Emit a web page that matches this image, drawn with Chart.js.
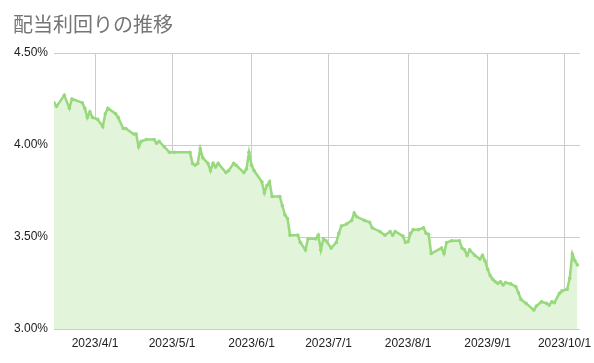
<!DOCTYPE html>
<html>
<head>
<meta charset="utf-8">
<script src="https://cdn.jsdelivr.net/npm/chart.js@4.4.0/dist/chart.umd.min.js"></script>
<style>
  html, body { margin: 0; padding: 0; background: #fff; }
</style>
</head>
<body>
<canvas id="chart" width="594" height="363"></canvas>
<script>
const chartTitle = "配当利回りの推移";

// dates and dividend yield (%)
const dates = [
  "2023/3/16", "2023/3/17", "2023/3/20", "2023/3/22", "2023/3/23", "2023/3/27", "2023/3/28", "2023/3/29",
  "2023/3/30", "2023/3/31", "2023/4/2", "2023/4/4", "2023/4/5", "2023/4/6", "2023/4/9", "2023/4/10",
  "2023/4/12", "2023/4/13", "2023/4/16", "2023/4/17", "2023/4/18", "2023/4/19", "2023/4/21", "2023/4/24",
  "2023/4/25", "2023/4/26", "2023/4/28", "2023/4/30", "2023/5/2", "2023/5/8", "2023/5/9", "2023/5/10",
  "2023/5/11", "2023/5/12", "2023/5/13", "2023/5/15", "2023/5/16", "2023/5/17", "2023/5/18", "2023/5/19",
  "2023/5/22", "2023/5/23", "2023/5/25", "2023/5/26", "2023/5/29", "2023/5/30", "2023/5/31", "2023/6/1",
  "2023/6/2", "2023/6/5", "2023/6/6", "2023/6/7", "2023/6/8", "2023/6/9", "2023/6/12", "2023/6/13",
  "2023/6/14", "2023/6/15", "2023/6/16", "2023/6/19", "2023/6/20", "2023/6/22", "2023/6/23", "2023/6/26",
  "2023/6/27", "2023/6/28", "2023/6/29", "2023/6/30", "2023/7/2", "2023/7/4", "2023/7/5", "2023/7/6",
  "2023/7/8", "2023/7/10", "2023/7/11", "2023/7/12", "2023/7/15", "2023/7/17", "2023/7/18", "2023/7/21",
  "2023/7/23", "2023/7/25", "2023/7/26", "2023/7/27", "2023/7/30", "2023/7/31", "2023/8/1", "2023/8/2",
  "2023/8/3", "2023/8/5", "2023/8/7", "2023/8/8", "2023/8/9", "2023/8/10", "2023/8/14", "2023/8/15",
  "2023/8/16", "2023/8/18", "2023/8/21", "2023/8/22", "2023/8/23", "2023/8/24", "2023/8/25", "2023/8/27",
  "2023/8/29", "2023/8/30", "2023/8/31", "2023/9/1", "2023/9/2", "2023/9/3", "2023/9/4", "2023/9/5",
  "2023/9/6", "2023/9/7", "2023/9/8", "2023/9/10", "2023/9/12", "2023/9/13", "2023/9/14", "2023/9/16",
  "2023/9/19", "2023/9/20", "2023/9/22", "2023/9/24", "2023/9/25", "2023/9/26", "2023/9/27", "2023/9/29",
  "2023/9/30", "2023/10/2", "2023/10/3", "2023/10/4", "2023/10/5", "2023/10/6"
];
const yields = [
  4.23, 4.21, 4.27, 4.20, 4.25, 4.23, 4.20, 4.15,
  4.18, 4.15, 4.14, 4.10, 4.17, 4.20, 4.17, 4.15,
  4.09, 4.09, 4.06, 4.06, 3.99, 4.02, 4.03, 4.03,
  4.01, 4.02, 3.99, 3.96, 3.96, 3.96, 3.90, 3.89,
  3.90, 3.98, 3.93, 3.90, 3.86, 3.90, 3.88, 3.90,
  3.85, 3.86, 3.90, 3.89, 3.85, 3.87, 3.96, 3.89,
  3.86, 3.80, 3.74, 3.78, 3.80, 3.72, 3.72, 3.67,
  3.62, 3.60, 3.51, 3.51, 3.47, 3.43, 3.49, 3.49,
  3.51, 3.43, 3.49, 3.48, 3.44, 3.47, 3.52, 3.56,
  3.57, 3.59, 3.63, 3.61, 3.59, 3.58, 3.55, 3.53,
  3.51, 3.53, 3.51, 3.53, 3.505, 3.47, 3.475, 3.52,
  3.54, 3.54, 3.55, 3.52, 3.515, 3.41, 3.44, 3.41,
  3.47, 3.48, 3.48, 3.44, 3.43, 3.40, 3.43, 3.40,
  3.38, 3.40, 3.37, 3.325, 3.29, 3.27, 3.257, 3.248,
  3.257, 3.239, 3.252, 3.245, 3.23, 3.197, 3.161, 3.139,
  3.103, 3.125, 3.148, 3.139, 3.13, 3.148, 3.143, 3.194,
  3.207, 3.216, 3.276, 3.408, 3.371, 3.348
];

const monthTicks = ["2023/4/1", "2023/5/1", "2023/6/1", "2023/7/1", "2023/8/1", "2023/9/1", "2023/10/1"];
const rangeStart = "2023/3/16";
const rangeEnd = "2023/10/7";
const yTicks = [3.0, 3.5, 4.0, 4.5];

const DAY = 86400000;
const BASE = Date.UTC(2023, 3, 1);

function toDay(str) {
  const p = str.split("/").map(Number);
  return (Date.UTC(p[0], p[1] - 1, p[2]) - BASE) / DAY;
}

function fmtDay(v) {
  const d = new Date(BASE + v * DAY);
  return d.getUTCFullYear() + "/" + (d.getUTCMonth() + 1) + "/" + d.getUTCDate();
}

const lineColor = "#98d97e";
const labelFont = { family: '"Liberation Sans", Arial, sans-serif', size: 12 };

new Chart(document.getElementById("chart"), {
  type: "line",
  data: {
    datasets: [{
      data: dates.map((d, i) => ({ x: toDay(d), y: yields[i] })),
      borderColor: lineColor,
      backgroundColor: "#e2f4da",
      fill: "start",
      borderWidth: 2.5,
      pointRadius: 1.8,
      pointBackgroundColor: lineColor,
      pointBorderWidth: 0,
      tension: 0,
    }],
  },
  options: {
    responsive: false,
    animation: false,
    layout: { padding: { left: 13, right: 14, top: 0, bottom: 0 } },
    plugins: {
      legend: { display: false },
      tooltip: { enabled: false },
      title: {
        display: true,
        text: chartTitle,
        align: "start",
        color: "#757575",
        font: { family: '"Noto Sans CJK JP", sans-serif', size: 20, weight: "normal" },
        padding: { top: 12, bottom: 17 },
      },
    },
    scales: {
      x: {
        type: "linear",
        min: toDay(rangeStart),
        max: toDay(rangeEnd),
        afterBuildTicks: (s) => { s.ticks = monthTicks.map((t) => ({ value: toDay(t) })); },
        afterFit: (s) => { s.height = 34; s.paddingLeft = 0; s.paddingRight = 0; },
        ticks: {
          callback: (v) => fmtDay(v),
          font: labelFont,
          color: "#222",
          padding: 7,
          maxRotation: 0,
          autoSkip: false,
        },
        grid: { color: "#cccccc", drawTicks: false },
        border: { display: false },
      },
      y: {
        min: 3.0,
        max: 4.5,
        afterBuildTicks: (s) => { s.ticks = yTicks.map((v) => ({ value: v })); },
        afterFit: (s) => { s.width = 41; },
        ticks: {
          callback: (v) => v.toFixed(2) + "%",
          font: labelFont,
          color: "#222",
          padding: 6,
        },
        grid: { color: "#cccccc", drawTicks: false },
        border: { display: false },
      },
    },
  },
});
</script>
</body>
</html>
